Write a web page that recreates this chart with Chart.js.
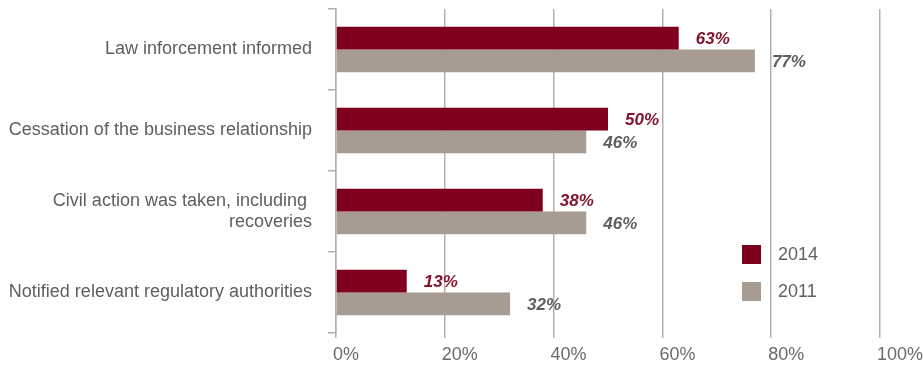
<!DOCTYPE html>
<html>
<head>
<meta charset="utf-8">
<script src="https://cdn.jsdelivr.net/npm/chart.js@4.4.1/dist/chart.umd.min.js"></script>
<style>
  html, body { margin: 0; padding: 0; background: #ffffff; }
  #wrap { width: 923px; height: 367px; }
</style>
</head>
<body>
<div id="wrap"><canvas id="actionsChart" width="923" height="367"></canvas></div>
<script>
// categories (multi-line label as array)
const categories = [
  "Law inforcement informed",
  "Cessation of the business relationship",
  ["Civil action was taken, including ", "recoveries"],
  "Notified relevant regulatory authorities",
];

// percentages per survey year
const series2014 = [63, 50, 38, 13];
const series2011 = [77, 46, 46, 32];

const xTicks = [0, 20, 40, 60, 80, 100];

const RED = "#7f001d";
const TAN = "#a89b91";
const GRID = "#bab0a9";
const FONT = "'Liberation Sans', Arial, Helvetica, sans-serif";

// value labels at the end of each bar
const valueLabels = {
  id: "valueLabels",
  afterDatasetsDraw(chart) {
    const ctx = chart.ctx;
    ctx.save();
    ctx.font = "italic bold 17px " + FONT;
    ctx.textAlign = "left";
    ctx.textBaseline = "middle";
    chart.data.datasets.forEach((ds, i) => {
      const meta = chart.getDatasetMeta(i);
      ctx.fillStyle = ds.valueColor;
      meta.data.forEach((bar, j) => {
        ctx.fillText(ds.data[j] + "%", bar.x + 17, bar.y + 1);
      });
    });
    ctx.restore();
  },
};

// legend squares drawn inside the plot, lower right
const boxLegend = {
  id: "boxLegend",
  afterDraw(chart) {
    const ctx = chart.ctx;
    const area = chart.chartArea;
    const left = area.left + 406;
    let top = area.top + 236;
    ctx.save();
    ctx.font = "18px " + FONT;
    ctx.textAlign = "left";
    ctx.textBaseline = "middle";
    chart.data.datasets.forEach((ds) => {
      ctx.fillStyle = ds.backgroundColor;
      ctx.fillRect(left, top, 19, 19);
      ctx.fillStyle = "#616161";
      ctx.fillText(ds.label, left + 36, top + 10);
      top += 37;
    });
    ctx.restore();
  },
};

new Chart(document.getElementById("actionsChart"), {
  type: "bar",
  data: {
    labels: categories,
    datasets: [
      {
        label: "2014",
        data: series2014,
        backgroundColor: RED,
        valueColor: "#85132b",
      },
      {
        label: "2011",
        data: series2011,
        backgroundColor: TAN,
        valueColor: "#5f5f5f",
      },
    ],
  },
  options: {
    indexAxis: "y",
    responsive: false,
    animation: false,
    events: [],
    categoryPercentage: 0.56,
    barPercentage: 1.0,
    layout: { padding: { top: 9, right: 43, left: 0, bottom: 0 } },
    plugins: {
      legend: { display: false },
      tooltip: { enabled: false },
    },
    scales: {
      x: {
        min: 0,
        max: 100,
        afterFit(scale) {
          scale.height = 34;
          scale.paddingLeft = 0;
          scale.paddingRight = 0;
        },
        afterBuildTicks(scale) {
          scale.ticks = xTicks.map((v) => ({ value: v }));
        },
        grid: {
          color: GRID,
          lineWidth: 1.5,
          drawTicks: true,
          tickLength: 5,
          tickColor: GRID,
        },
        border: { display: false },
        ticks: {
          align: "start",
          labelOffset: -3,
          padding: 6,
          color: "#6b6b6b",
          font: { family: FONT, size: 18 },
          callback: (v) => v + "%",
        },
      },
      y: {
        afterFit(scale) {
          scale.width = 336;
          scale.paddingTop = 0;
          scale.paddingBottom = 0;
        },
        grid: {
          offset: true,
          drawOnChartArea: false,
          drawTicks: true,
          tickLength: 8,
          tickColor: GRID,
          lineWidth: 1.5,
        },
        border: { display: true, color: GRID, width: 1.5 },
        ticks: {
          padding: 16,
          color: "#5e5e5e",
          font: { family: FONT, size: 18, lineHeight: 1.15 },
        },
      },
    },
  },
  plugins: [valueLabels, boxLegend],
});
</script>
</body>
</html>
